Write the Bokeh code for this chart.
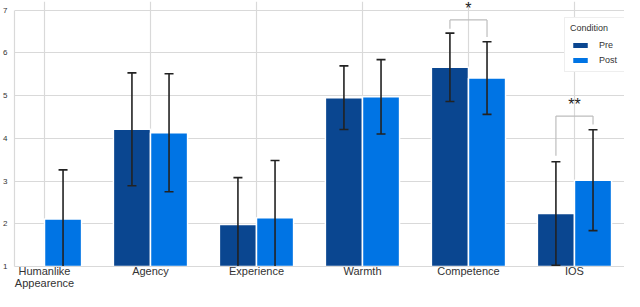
from bokeh.plotting import figure
from bokeh.models import ColumnDataSource, FixedTicker, Range1d
from bokeh.core.properties import value
from bokeh.embed import file_html
from bokeh.resources import INLINE

categories = ["Humanlike\nAppearence", "Agency", "Experience", "Warmth", "Competence", "IOS"]
pre_mean = [None, 4.21, 1.98, 4.95, 5.66, 2.24]
pre_err = [None, 1.32, 1.10, 0.745, 0.80, 1.21]
post_mean = [2.11, 4.13, 2.14, 4.97, 5.41, 3.02]
post_err = [1.15, 1.38, 1.34, 0.87, 0.85, 1.18]
y_ticks = [1, 2, 3, 4, 5, 6, 7]

sig_cat = [4, 5]
sig_y = [6.77, 4.52]
sig_pre_leg = [6.56, 3.59]
sig_post_leg = [6.37, 4.32]
sig_text_y = [7.04, 4.80]
sig_label = ["*", "**"]

PRE_COLOR = "#0A4690"
POST_COLOR = "#0074E4"
FONT = "Liberation Sans"
OFF = 0.175
BW = 0.35

def build(means, errs, offset):
    xs, tops, lo, hi = [], [], [], []
    for i, (m, e) in enumerate(zip(means, errs)):
        if m is None:
            continue
        xs.append(i + offset)
        tops.append(m)
        lo.append(m - e)
        hi.append(m + e)
    return ColumnDataSource(dict(x=xs, top=tops, lo=lo, hi=hi))

pre_src = build(pre_mean, pre_err, -OFF)
post_src = build(post_mean, post_err, OFF)

p = figure(width=624, height=291,
           x_range=Range1d(-0.283, 5.472), y_range=Range1d(1, 7.2),
           output_backend="svg", toolbar_location=None,
           min_border_left=14, min_border_right=0, min_border_top=1, min_border_bottom=0)

p.vbar(x="x", top="top", bottom=1, width=BW, source=pre_src, fill_color=PRE_COLOR,
       line_color="white", line_width=1.5, legend_label="Pre")
p.vbar(x="x", top="top", bottom=1, width=BW, source=post_src, fill_color=POST_COLOR,
       line_color="white", line_width=1.5, legend_label="Post")

for src in (pre_src, post_src):
    p.segment(x0="x", x1="x", y0="lo", y1="hi", source=src, line_color="#222222", line_width=1.6)
    p.scatter(x="x", y="hi", marker="dash", size=9, source=src, line_color="#222222", line_width=1.6)
    p.scatter(x="x", y="lo", marker="dash", size=9, source=src, line_color="#222222", line_width=1.6)

# significance brackets
bx0, bx1, by0, by1 = [], [], [], []
for c, y, lp, lq in zip(sig_cat, sig_y, sig_pre_leg, sig_post_leg):
    a, b = c - OFF, c + OFF
    bx0 += [a, a, b]
    bx1 += [b, a, b]
    by0 += [y, y, y]
    by1 += [y, lp, lq]
p.segment(x0=bx0, x1=bx1, y0=by0, y1=by1, line_color="#bdbdbd", line_width=1.2)
p.text(x=sig_cat, y=sig_text_y, text=sig_label, text_align="center", text_baseline="alphabetic",
       text_font=value(FONT), text_font_size="16px", text_color="#222222")

# axes
p.xaxis.ticker = FixedTicker(ticks=list(range(len(categories))))
p.xaxis.major_label_overrides = {i: c for i, c in enumerate(categories)}
p.yaxis.ticker = FixedTicker(ticks=y_ticks)
p.yaxis.bounds = (1, 7)
for ax in (p.xaxis, p.yaxis):
    ax.major_tick_line_color = None
    ax.minor_tick_line_color = None
    ax.major_tick_out = 0
    ax.major_tick_in = 0
    ax.axis_line_color = "#d9d9d9"
    ax.axis_line_width = 1.2
    ax.major_label_text_font = FONT
    ax.major_label_text_color = "#333333"
p.xaxis.major_label_text_font_size = "11px"
p.xaxis.major_label_text_line_height = 1.0
p.xaxis.major_label_standoff = -2
p.yaxis.major_label_text_font_size = "8px"
p.yaxis.major_label_standoff = 7

p.xgrid.grid_line_color = "#d9d9d9"
p.ygrid.grid_line_color = "#d9d9d9"
p.xgrid.grid_line_width = 1.2
p.ygrid.grid_line_width = 1.2
p.outline_line_color = None

lg = p.legend[0]
lg.location = (550, 194)
lg.margin = 0
lg.title = "Condition"
lg.title_text_font = FONT
lg.title_text_font_size = "9px"
lg.title_text_font_style = "normal"
lg.title_text_color = "#333333"
lg.label_text_font = FONT
lg.label_text_font_size = "9px"
lg.label_text_color = "#333333"
lg.glyph_width = 20
lg.glyph_height = 8
lg.label_height = 13
lg.label_standoff = 9
lg.spacing = 2
lg.padding = 5
lg.border_line_color = "#dddddd"
lg.background_fill_alpha = 1.0

open("out.html", "w").write(file_html(p, INLINE))
